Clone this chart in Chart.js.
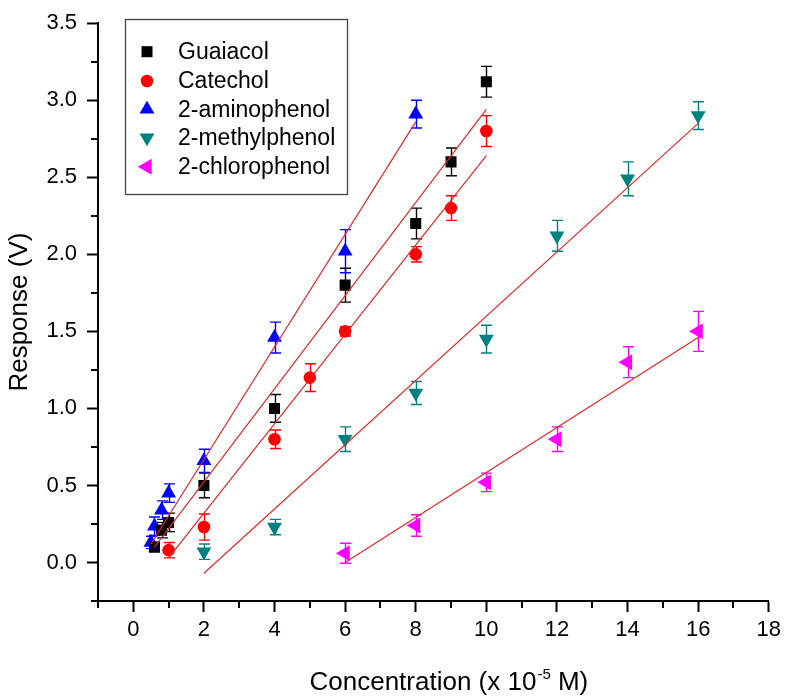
<!DOCTYPE html>
<html>
<head>
<meta charset="utf-8">
<script src="https://cdn.jsdelivr.net/npm/chart.js@4.4.0/dist/chart.umd.min.js"></script>
<style>
html,body{margin:0;padding:0;background:#fff;}
#wrap{width:786px;height:698px;position:relative;}
</style>
</head>
<body>
<div id="wrap"><canvas id="c" width="786" height="698"></canvas></div>
<script>
// ---------- data ----------
const seriesNames = ['Guaiacol', 'Catechol', '2-aminophenol', '2-methylphenol', '2-chlorophenol'];

const guaiacolX   = [0.6, 0.8, 1, 2, 4, 6, 8, 9, 10];
const guaiacolY   = [0.10, 0.21, 0.26, 0.50, 1.00, 1.80, 2.20, 2.60, 3.12];
const guaiacolErr = [0.03, 0.05, 0.06, 0.08, 0.09, 0.11, 0.10, 0.09, 0.10];

const catecholX   = [1, 2, 4, 5, 6, 8, 9, 10];
const catecholY   = [0.08, 0.23, 0.80, 1.20, 1.50, 2.00, 2.30, 2.80];
const catecholErr = [0.05, 0.085, 0.06, 0.09, 0.03, 0.05, 0.08, 0.10];

const aminoX   = [0.5, 0.6, 0.8, 1, 2, 4, 6, 8];
const aminoY   = [0.13, 0.235, 0.34, 0.45, 0.66, 1.46, 2.02, 2.91];
const aminoErr = [0.04, 0.06, 0.06, 0.06, 0.075, 0.10, 0.14, 0.09];

const methylX   = [2, 4, 6, 8, 10, 12, 14, 16];
const methylY   = [0.07, 0.23, 0.80, 1.10, 1.45, 2.12, 2.49, 2.90];
const methylErr = [0.05, 0.05, 0.08, 0.075, 0.09, 0.10, 0.11, 0.09];

const chloroX   = [6, 8, 10, 12, 14, 16];
const chloroY   = [0.06, 0.24, 0.52, 0.80, 1.30, 1.50];
const chloroErr = [0.065, 0.07, 0.06, 0.08, 0.10, 0.13];

// linear-fit line end points
const guaiacolFitX = [0.6, 10];  const guaiacolFitY = [0.10, 2.94];
const catecholFitX = [1, 10];    const catecholFitY = [0.03, 2.64];
const aminoFitX    = [0.5, 8];   const aminoFitY    = [0.12, 2.86];
const methylFitX   = [2, 16];    const methylFitY   = [-0.07, 2.85];
const chloroFitX   = [6, 16];    const chloroFitY   = [0.0, 1.46];

// axis ticks
const xMajorTicks = [0, 2, 4, 6, 8, 10, 12, 14, 16, 18];
const xMinorTicks = [-1, 1, 3, 5, 7, 9, 11, 13, 15, 17];
const yMajorTicks = [0, 0.5, 1, 1.5, 2, 2.5, 3, 3.5];
const yMinorTicks = [-0.25, 0.25, 0.75, 1.25, 1.75, 2.25, 2.75, 3.25];

const xTitleMain = 'Concentration (x 10';
const xTitleSup = '-5';
const xTitleEnd = ' M)';
const yTitle = 'Response (V)';

// ---------- styling ----------
const FONT = "'Liberation Sans', Arial, Helvetica, sans-serif";
const styles = [
  {color: '#000000', pointStyle: 'rect',     radius: 7.8, rotation: 0},
  {color: '#ff0000', pointStyle: 'circle',   radius: 6.3, rotation: 0},
  {color: '#0000ff', pointStyle: 'triangle', radius: 8.6, rotation: 0},
  {color: '#008080', pointStyle: 'triangle', radius: 8.6, rotation: 180},
  {color: '#ff00ff', pointStyle: 'triangle', radius: 9.2, rotation: -90}
];
const FIT_COLOR = 'rgb(222,40,40)';

function pts(xs, ys) { return xs.map((x, i) => ({x: x, y: ys[i]})); }

const groups = [
  [guaiacolX, guaiacolY, guaiacolErr, guaiacolFitX, guaiacolFitY],
  [catecholX, catecholY, catecholErr, catecholFitX, catecholFitY],
  [aminoX, aminoY, aminoErr, aminoFitX, aminoFitY],
  [methylX, methylY, methylErr, methylFitX, methylFitY],
  [chloroX, chloroY, chloroErr, chloroFitX, chloroFitY]
];

const datasets = [];
groups.forEach((g, i) => {
  const st = styles[i];
  datasets.push({
    label: seriesNames[i],
    data: pts(g[0], g[1]),
    errors: g[2],
    backgroundColor: st.color,
    borderColor: st.color,
    borderWidth: 0,
    pointStyle: st.pointStyle,
    pointRadius: st.radius,
    pointHoverRadius: st.radius,
    pointRotation: st.rotation,
    showLine: false,
    order: 2
  });
});
groups.forEach((g, i) => {
  datasets.push({
    label: seriesNames[i] + ' fit',
    isFit: true,
    data: pts(g[3], g[4]),
    borderColor: FIT_COLOR,
    backgroundColor: FIT_COLOR,
    borderWidth: 1.2,
    pointRadius: 0,
    pointHoverRadius: 0,
    showLine: true,
    fill: false,
    order: 1
  });
});

// ---------- plugins ----------
const errorBars = {
  id: 'errorBars',
  beforeDatasetsDraw(chart) {
    const ctx = chart.ctx, xs = chart.scales.x, ys = chart.scales.y;
    ctx.save();
    chart.data.datasets.forEach(ds => {
      if (!ds.errors) return;
      ctx.strokeStyle = ds.borderColor;
      ctx.lineWidth = 1.4;
      ds.data.forEach((p, j) => {
        const e = ds.errors[j];
        const px = Math.round(xs.getPixelForValue(p.x)) + 0.5;
        const yt = ys.getPixelForValue(p.y + e);
        const yb = ys.getPixelForValue(p.y - e);
        ctx.beginPath();
        ctx.moveTo(px, yt); ctx.lineTo(px, yb);
        ctx.moveTo(px - 5.5, yt); ctx.lineTo(px + 5.5, yt);
        ctx.moveTo(px - 5.5, yb); ctx.lineTo(px + 5.5, yb);
        ctx.stroke();
      });
    });
    ctx.restore();
  }
};

const decorations = {
  id: 'decorations',
  afterDraw(chart) {
    const ctx = chart.ctx, xs = chart.scales.x, ys = chart.scales.y, area = chart.chartArea;
    ctx.save();
    // minor ticks
    ctx.strokeStyle = '#000'; ctx.lineWidth = 2;
    ctx.beginPath();
    xMinorTicks.forEach(v => {
      const px = Math.round(xs.getPixelForValue(v));
      ctx.moveTo(px, area.bottom); ctx.lineTo(px, area.bottom + 7);
    });
    yMinorTicks.forEach(v => {
      const py = Math.round(ys.getPixelForValue(v));
      ctx.moveTo(area.left, py); ctx.lineTo(area.left - 7, py);
    });
    ctx.stroke();

    // x axis title with superscript
    ctx.fillStyle = '#000';
    ctx.textBaseline = 'alphabetic';
    ctx.textAlign = 'left';
    const big = '26px ' + FONT, small = '15px ' + FONT;
    ctx.font = big;
    const w1 = ctx.measureText(xTitleMain).width;
    const w3 = ctx.measureText(xTitleEnd).width;
    ctx.font = small;
    const w2 = ctx.measureText(xTitleSup).width;
    const cx = (area.left + area.right) / 2 + 15;
    let x0 = cx - (w1 + w2 + w3) / 2;
    const base = 690;
    ctx.font = big; ctx.fillText(xTitleMain, x0, base);
    ctx.font = small; ctx.fillText(xTitleSup, x0 + w1 + 1, base - 11);
    ctx.font = big; ctx.fillText(xTitleEnd, x0 + w1 + w2 + 1, base);

    // legend box
    ctx.strokeStyle = '#444'; ctx.lineWidth = 1.3;
    ctx.strokeRect(125.5, 19.5, 222, 175);
    const rowY = [51.7, 81, 109.3, 137.7, 166.7];
    ctx.font = '23px ' + FONT;
    ctx.textBaseline = 'middle';
    seriesNames.forEach((name, i) => {
      const st = styles[i];
      ctx.fillStyle = st.color;
      ctx.strokeStyle = st.color;
      Chart.helpers.drawPoint(ctx, {pointStyle: st.pointStyle, radius: st.radius, rotation: st.rotation, borderWidth: 0}, 147, rowY[i]);
      ctx.fillStyle = '#000';
      ctx.fillText(name, 178, rowY[i] + 1);
    });
    ctx.restore();
  }
};

new Chart(document.getElementById('c'), {
  type: 'scatter',
  data: {datasets: datasets},
  options: {
    responsive: false,
    animation: false,
    devicePixelRatio: 1,
    layout: {padding: {top: 16, right: 16, left: 0, bottom: 0}},
    plugins: {legend: {display: false}, tooltip: {enabled: false}},
    scales: {
      x: {
        type: 'linear', min: -1, max: 18,
        afterBuildTicks: s => { s.ticks = xMajorTicks.map(v => ({value: v})); },
        ticks: {font: {family: FONT, size: 22}, color: '#000', padding: 5, maxRotation: 0,
                callback: v => String(v)},
        grid: {display: true, drawOnChartArea: false, drawTicks: true, tickLength: 11, tickWidth: 2, tickColor: '#000'},
        border: {display: true, color: '#000', width: 2},
        title: {display: false},
        afterFit: s => { s.height = 97; }
      },
      y: {
        type: 'linear', min: -0.25, max: 3.5,
        afterBuildTicks: s => { s.ticks = yMajorTicks.map(v => ({value: v})); },
        ticks: {font: {family: FONT, size: 22}, color: '#000', padding: 10,
                callback: v => Number(v).toFixed(1)},
        grid: {display: true, drawOnChartArea: false, drawTicks: true, tickLength: 11, tickWidth: 2, tickColor: '#000'},
        border: {display: true, color: '#000', width: 2},
        title: {display: true, text: yTitle, color: '#000', font: {family: FONT, size: 26}, padding: {top: 4, bottom: 0}},
        afterFit: s => { s.width = 98; }
      }
    }
  },
  plugins: [errorBars, decorations]
});
</script>
</body>
</html>
